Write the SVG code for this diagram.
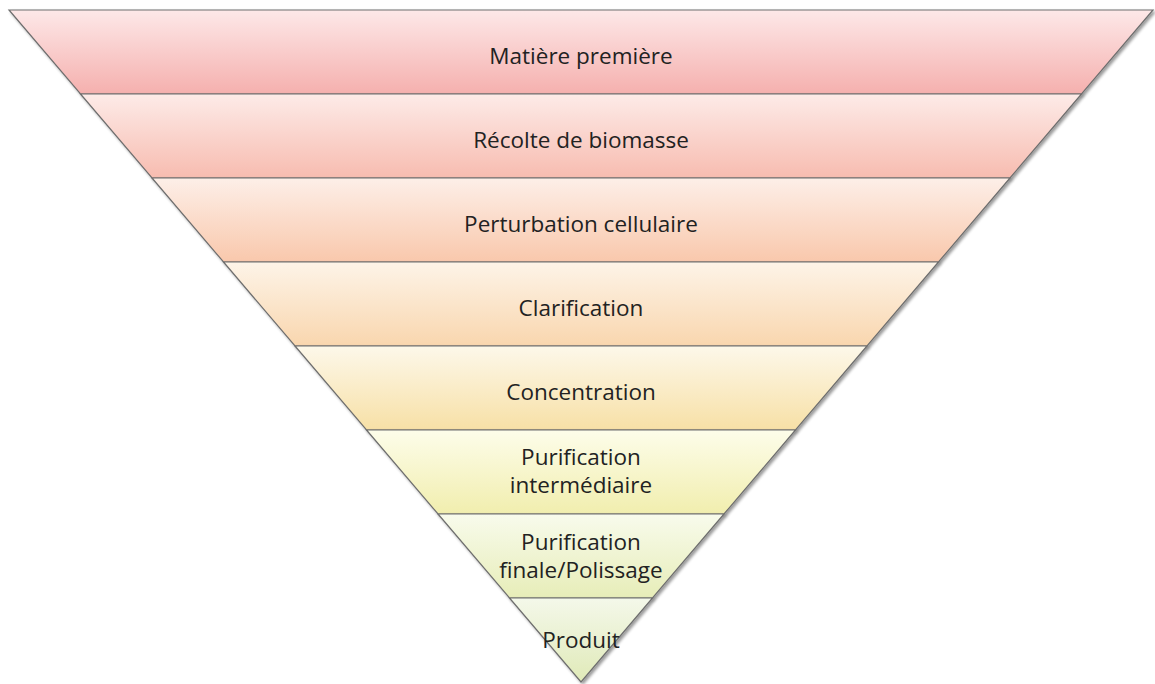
<svg xmlns="http://www.w3.org/2000/svg" width="1155" height="684" viewBox="0 0 1155 684">
<defs>
<filter id="sh" x="-5%" y="-10%" width="110%" height="130%">
<feGaussianBlur in="SourceAlpha" stdDeviation="1.5"/>
<feOffset dx="2" dy="2" result="b"/>
<feComponentTransfer><feFuncA type="linear" slope="0.4"/></feComponentTransfer>
<feMerge><feMergeNode/><feMergeNode in="SourceGraphic"/></feMerge>
</filter>
<linearGradient id="g1" x1="0" y1="0" x2="0" y2="1"><stop offset="0" stop-color="#fde8e8"/><stop offset="1" stop-color="#f5b0ae"/></linearGradient>
<linearGradient id="g2" x1="0" y1="0" x2="0" y2="1"><stop offset="0" stop-color="#fdebe8"/><stop offset="1" stop-color="#f7bcb0"/></linearGradient>
<linearGradient id="g3" x1="0" y1="0" x2="0" y2="1"><stop offset="0" stop-color="#fdefe8"/><stop offset="1" stop-color="#f9c8ac"/></linearGradient>
<linearGradient id="g4" x1="0" y1="0" x2="0" y2="1"><stop offset="0" stop-color="#fdf4e8"/><stop offset="1" stop-color="#f9d6ae"/></linearGradient>
<linearGradient id="g5" x1="0" y1="0" x2="0" y2="1"><stop offset="0" stop-color="#fdf8ea"/><stop offset="1" stop-color="#f7e0a6"/></linearGradient>
<linearGradient id="g6" x1="0" y1="0" x2="0" y2="1"><stop offset="0" stop-color="#fdfdea"/><stop offset="1" stop-color="#f1eeae"/></linearGradient>
<linearGradient id="g7" x1="0" y1="0" x2="0" y2="1"><stop offset="0" stop-color="#f8fbec"/><stop offset="1" stop-color="#e7edb8"/></linearGradient>
<linearGradient id="g8" x1="0" y1="0" x2="0" y2="1"><stop offset="0" stop-color="#f4f8ea"/><stop offset="1" stop-color="#e0eab8"/></linearGradient>
</defs>
<style>
.b{stroke:#6e6e6e;stroke-width:1.2;filter:url(#sh)}
.t{font-family:"Open Sans","Liberation Sans",sans-serif;font-size:22.5px;fill:#222222;text-anchor:middle}
</style>
<g id="band1"><polygon class="b" fill="url(#g1)" points="9,10 1153,10 1081.5,94 80.5,94"/><text class="t" x="581" y="64">Matière première</text></g>
<g id="band2"><polygon class="b" fill="url(#g2)" points="80.5,94 1081.5,94 1010,178 152,178"/><text class="t" x="581" y="148">Récolte de biomasse</text></g>
<g id="band3"><polygon class="b" fill="url(#g3)" points="152,178 1010,178 938.5,262 223.5,262"/><text class="t" x="581" y="232">Perturbation cellulaire</text></g>
<g id="band4"><polygon class="b" fill="url(#g4)" points="223.5,262 938.5,262 867,346 295,346"/><text class="t" x="581" y="316">Clarification</text></g>
<g id="band5"><polygon class="b" fill="url(#g5)" points="295,346 867,346 795.5,430 366.5,430"/><text class="t" x="581" y="400">Concentration</text></g>
<g id="band6"><polygon class="b" fill="url(#g6)" points="366.5,430 795.5,430 724,514 438,514"/><text class="t" x="581" y="465">Purification</text><text class="t" x="581" y="493">intermédiaire</text></g>
<g id="band7"><polygon class="b" fill="url(#g7)" points="438,514 724,514 652.5,598 509.5,598"/><text class="t" x="581" y="550">Purification</text><text class="t" x="581" y="578">finale/Polissage</text></g>
<g id="band8"><polygon class="b" fill="url(#g8)" points="509.5,598 652.5,598 581,682"/><text class="t" x="581" y="648">Produit</text></g>
<g id="connectors"/>
</svg>
